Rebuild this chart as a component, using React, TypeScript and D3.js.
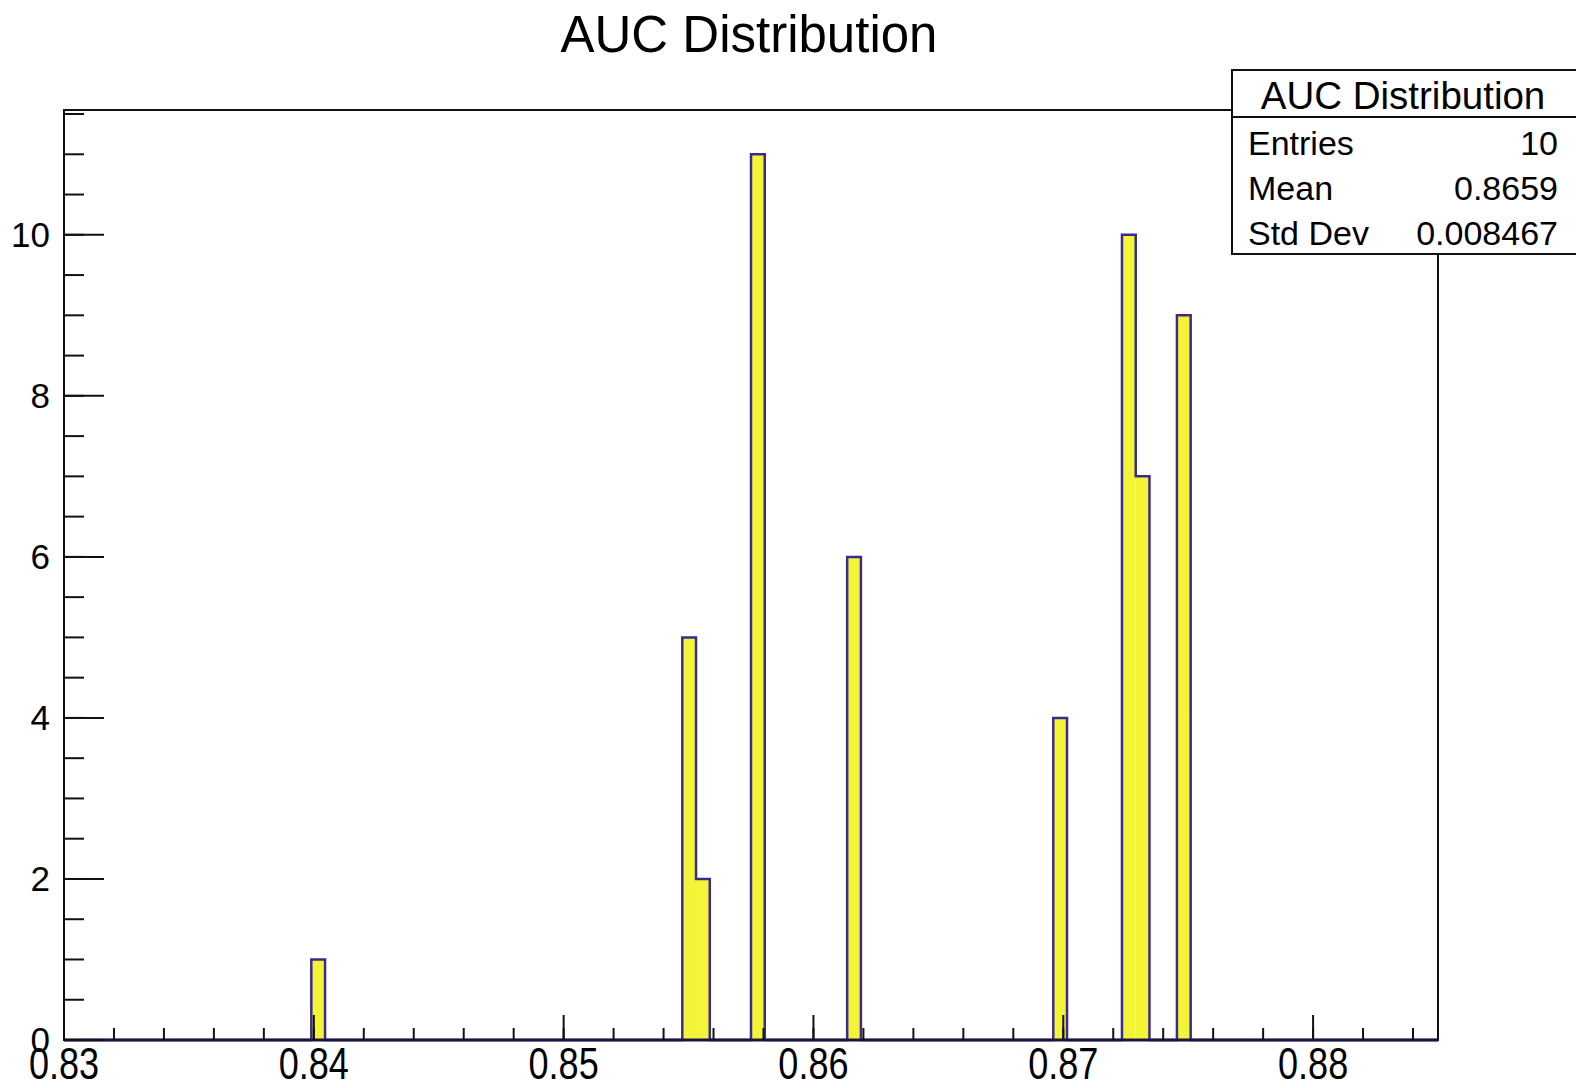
import React, { useEffect, useRef } from 'react'
import * as d3 from 'd3'

// histogram binning (ROOT style TH1)
const nBins = 100
const xMin = 0.83
const xMax = 0.885
// filled bins (index) and their contents
const filledBins = [18, 45, 46, 50, 57, 72, 77, 78, 81]
const binCounts = [1, 5, 2, 11, 6, 4, 10, 7, 9]

const xTickLabels = ['0.83', '0.84', '0.85', '0.86', '0.87', '0.88']
const yTickLabels = ['0', '2', '4', '6', '8', '10']

const statNames = ['Entries', 'Mean', 'Std Dev']
const statValues = ['10', '0.8659', '0.008467']

const W = 1576
const H = 1088
const FONT = '"Liberation Sans", Arial, Helvetica, sans-serif'

const drawChart = (node: SVGSVGElement) => {
    const svg = d3.select(node)
    svg.selectAll('*').remove()

    const margin = { top: 110, left: 64, right: 138, bottom: 48 }
    const x0 = margin.left, x1 = W - margin.right
    const y0 = H - margin.bottom, y1 = margin.top

    const binWidth = (xMax - xMin) / nBins
    const counts: number[] = d3.range(nBins).map(() => 0)
    filledBins.forEach((b, i) => (counts[b] = binCounts[i]))
    const yMax = d3.max(counts) * 1.05

    const x = d3.scaleLinear().domain([xMin, xMax]).range([x0, x1])
    const y = d3.scaleLinear().domain([0, yMax]).range([y0, y1])

    svg.append('rect').attr('width', W).attr('height', H).attr('fill', 'white')

    // title
    svg.append('text')
        .attr('x', 749).attr('y', 52)
        .attr('text-anchor', 'middle')
        .attr('font-family', FONT)
        .attr('font-size', 51)
        .text('AUC Distribution')

    // bars (fill only)
    const bars = svg.append('g')
    bars.selectAll('rect')
        .data(filledBins.map((b, i) => ({ bin: b, n: binCounts[i] })))
        .enter()
        .append('rect')
        .attr('x', d => x(xMin + d.bin * binWidth))
        .attr('width', d => x(xMin + (d.bin + 1) * binWidth) - x(xMin + d.bin * binWidth))
        .attr('y', d => y(d.n))
        .attr('height', d => y(0) - y(d.n))
        .attr('fill', '#f4f436')

    // step outline
    const pts: [number, number][] = [[xMin, 0]]
    counts.forEach((c, i) => pts.push([xMin + i * binWidth, c]))
    pts.push([xMax, counts[nBins - 1]])
    pts.push([xMax, 0])
    const line = d3.line<[number, number]>()
        .x(d => x(d[0]))
        .y(d => y(d[1]))
        .curve(d3.curveStepAfter)
    svg.append('path')
        .attr('d', line(pts))
        .attr('fill', 'none')
        .attr('stroke', '#3b2a94')
        .attr('stroke-width', 2.5)

    // frame
    svg.append('rect')
        .attr('x', x0).attr('y', y1)
        .attr('width', x1 - x0).attr('height', y0 - y1)
        .attr('fill', 'none')
        .attr('stroke', '#111')
        .attr('stroke-width', 2)
    svg.append('line')
        .attr('x1', x0).attr('x2', x1).attr('y1', y0).attr('y2', y0)
        .attr('stroke', '#1a1440').attr('stroke-width', 3)

    // x ticks
    const xMajor = d3.range(0, xTickLabels.length).map(i => xMin + i * 0.01)
    const xMinor = d3.range(0, 28).map(i => xMin + i * 0.002).filter(v => v <= xMax + 1e-9)
    svg.append('g').selectAll('line')
        .data(xMinor)
        .enter().append('line')
        .attr('x1', d => x(d)).attr('x2', d => x(d))
        .attr('y1', y0).attr('y2', y0 - 12)
        .attr('stroke', '#111').attr('stroke-width', 2)
    svg.append('g').selectAll('line')
        .data(xMajor)
        .enter().append('line')
        .attr('x1', d => x(d)).attr('x2', d => x(d))
        .attr('y1', y0).attr('y2', y0 - 25)
        .attr('stroke', '#111').attr('stroke-width', 2)
    svg.append('g').selectAll('text')
        .data(xMajor)
        .enter().append('text')
        .attr('transform', d => `translate(${x(d)},1079) scale(0.82,1)`)
        .attr('text-anchor', 'middle')
        .attr('font-family', FONT)
        .attr('font-size', 44)
        .text((d, i) => xTickLabels[i])

    // y ticks
    const yMajor = yTickLabels.map(v => +v)
    const yMinor = d3.range(0, 24).map(i => i * 0.5).filter(v => v <= yMax)
    svg.append('g').selectAll('line')
        .data(yMinor)
        .enter().append('line')
        .attr('x1', x0).attr('x2', x0 + 20)
        .attr('y1', d => y(d)).attr('y2', d => y(d))
        .attr('stroke', '#111').attr('stroke-width', 2)
    svg.append('g').selectAll('line')
        .data(yMajor)
        .enter().append('line')
        .attr('x1', x0).attr('x2', x0 + 40)
        .attr('y1', d => y(d)).attr('y2', d => y(d))
        .attr('stroke', '#111').attr('stroke-width', 2)
    svg.append('g').selectAll('text')
        .data(yMajor)
        .enter().append('text')
        .attr('x', 50)
        .attr('y', d => y(d) + 12)
        .attr('text-anchor', 'end')
        .attr('font-family', FONT)
        .attr('font-size', 35)
        .text((d, i) => yTickLabels[i])

    // stats box
    const box = svg.append('g')
    box.append('rect')
        .attr('x', 1232).attr('y', 70)
        .attr('width', 360).attr('height', 184)
        .attr('fill', 'white')
        .attr('stroke', '#111').attr('stroke-width', 2)
    box.append('line')
        .attr('x1', 1232).attr('x2', 1576).attr('y1', 117).attr('y2', 117)
        .attr('stroke', '#111').attr('stroke-width', 2)
    box.append('text')
        .attr('x', 1403).attr('y', 109)
        .attr('text-anchor', 'middle')
        .attr('font-family', FONT)
        .attr('font-size', 38.5)
        .text('AUC Distribution')
    box.selectAll('.stat-name')
        .data(statNames)
        .enter().append('text')
        .attr('class', 'stat-name')
        .attr('x', 1248)
        .attr('y', (d, i) => 155 + i * 45)
        .attr('font-family', FONT)
        .attr('font-size', 34)
        .text(d => d)
    box.selectAll('.stat-value')
        .data(statValues)
        .enter().append('text')
        .attr('class', 'stat-value')
        .attr('x', 1558)
        .attr('y', (d, i) => 155 + i * 45)
        .attr('text-anchor', 'end')
        .attr('font-family', FONT)
        .attr('font-size', 34)
        .text(d => d)
}

export default function App() {
    const ref = useRef<SVGSVGElement>(null)
    useEffect(() => {
        if (ref.current) drawChart(ref.current)
    }, [])
    return (
        <svg
            ref={ref}
            width={W}
            height={H}
            style={{ position: 'absolute', left: 0, top: 0, display: 'block' }}
        />
    )
}
